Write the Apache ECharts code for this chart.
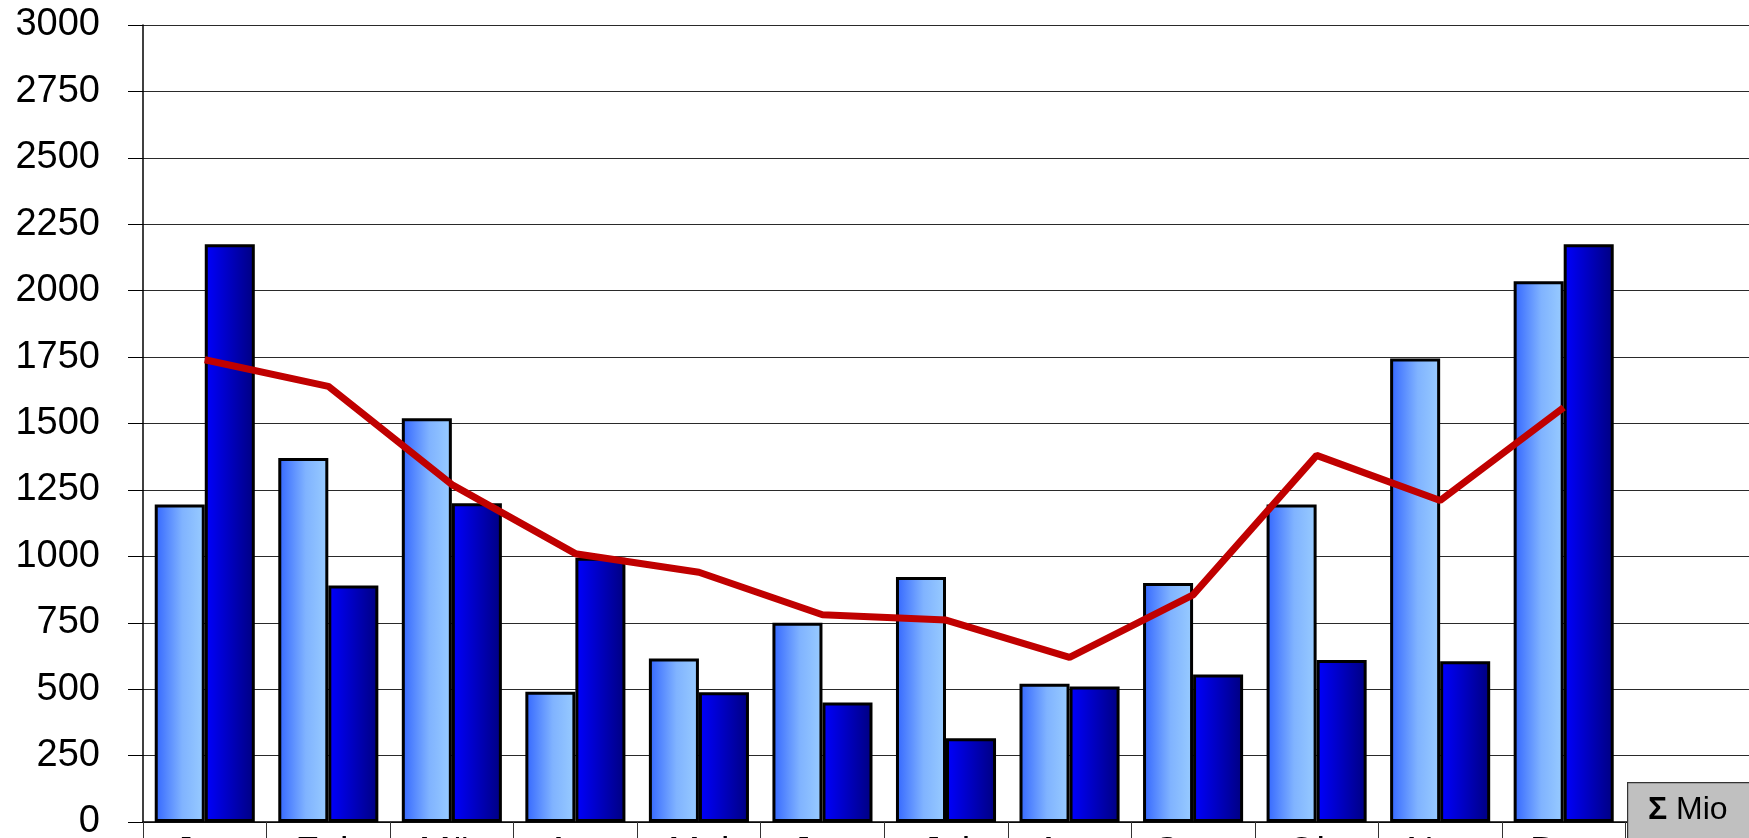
<!DOCTYPE html>
<html>
<head>
<meta charset="utf-8">
<script src="https://cdn.jsdelivr.net/npm/echarts@6/dist/echarts.min.js"></script>
<style>
html,body{margin:0;padding:0;background:#fff;}
#chart{width:1749px;height:838px;}
</style>
</head>
<body>
<div id="chart"></div>
<script>
const months = ['Jan','Feb','Mär','Apr','Mai','Jun','Jul','Aug','Sept','Okt','Nov','Dez',''];
const seriesLight = [1195,1370,1520,490,615,750,922,520,900,1195,1745,2035];
const seriesDark  = [2175,890,1200,995,488,450,315,510,555,610,605,2175];
const seriesLine  = [1740,1640,1270,1010,940,780,760,620,855,1380,1210,1560];
const yTicks = [0,250,500,750,1000,1250,1500,1750,2000,2250,2500,2750,3000];
const boxLabel = 'Mio';

const FONT = "'Liberation Sans',Arial,sans-serif";
const chart = echarts.init(document.getElementById('chart'), null, {renderer:'canvas'});
const lightGrad = new echarts.graphic.LinearGradient(0,0,1,0,[
  {offset:0,color:'#3366FF'},{offset:0.55,color:'#80B3FF'},{offset:1,color:'#99CCFF'}]);
const darkGrad = new echarts.graphic.LinearGradient(0,0,1,0,[
  {offset:0,color:'#0000FF'},{offset:1,color:'#000080'}]);

chart.setOption({
  animation:false,
  backgroundColor:'#ffffff',
  grid:{left:143,right:0,top:25,bottom:16,containLabel:false,outerBoundsMode:'none'},
  xAxis:{
    type:'category',
    data:months,
    axisLine:{show:true,lineStyle:{color:'#000',width:1.5}},
    axisTick:{show:true,interval:0,length:20,lineStyle:{color:'#333',width:1}},
    axisLabel:{interval:0,margin:13,fontFamily:FONT,fontSize:38,color:'#000',lineHeight:38},
    splitLine:{show:false}
  },
  yAxis:{
    type:'value',
    min:yTicks[0],
    max:yTicks[yTicks.length-1],
    interval:yTicks[1]-yTicks[0],
    axisLine:{show:true,lineStyle:{color:'#000',width:1.5}},
    axisTick:{show:true,length:15,lineStyle:{color:'#000',width:1}},
    axisLabel:{margin:43,fontFamily:FONT,fontSize:38,color:'#000',formatter:function(v){return String(v);}},
    splitLine:{show:true,lineStyle:{color:'#2a2a2a',width:1.2}}
  },
  series:[
    {type:'bar',data:seriesLight,barGap:'0%',barCategoryGap:'19%',
     itemStyle:{color:lightGrad,borderColor:'#000',borderWidth:3}},
    {type:'bar',data:seriesDark,barGap:'0%',barCategoryGap:'19%',
     itemStyle:{color:darkGrad,borderColor:'#000',borderWidth:3}},
    {type:'line',data:seriesLine,symbol:'none',z:5,
     lineStyle:{color:'#C00000',width:7}}
  ],
  graphic:[
    {type:'rect',left:1627,top:782,shape:{width:140,height:80},
     style:{fill:'#C0C0C0',stroke:'#333',lineWidth:1.2},z:100},
    {type:'text',left:1648,top:794,z:101,
     style:{text:'{b|Σ} '+boxLabel,fontFamily:FONT,fontSize:32,fill:'#000',
       rich:{b:{fontWeight:'bold',fontFamily:FONT,fontSize:32,fill:'#000'}}}}
  ]
});
</script>
</body>
</html>
